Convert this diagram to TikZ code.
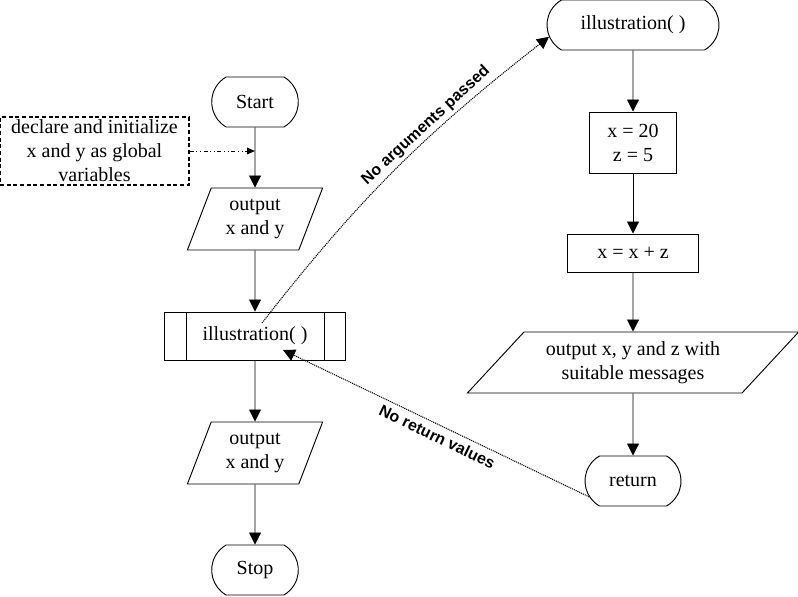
\documentclass[tikz,border=0pt]{standalone}
\usepackage{fontspec}
\setmainfont{Liberation Serif}
\newfontfamily\remarkfont{Liberation Sans}
\usetikzlibrary{shapes.geometric,shapes.misc,arrows.meta}

\tikzset{
	terminal/.style={draw, rounded rectangle, rounded rectangle arc length=120,
		minimum width=#1, minimum height=37.5pt, inner sep=0pt},
	terminal/.default=65pt,
	io/.style={draw, trapezium, trapezium left angle=68, trapezium right angle=112,
		trapezium stretches=true, minimum width=102pt, minimum height=46.5pt,
		align=center, inner sep=0pt},
	process/.style={draw, rectangle, align=center, inner sep=0pt},
	callbox/.style={draw, rectangle, minimum width=135.75pt, minimum height=36pt, inner sep=0pt},
	declbox/.style={draw, line width=1pt, dash pattern=on 3pt off 2pt, align=center,
		minimum width=141.75pt, minimum height=51pt, inner sep=1pt},
	flow/.style={-{Triangle[length=9pt,width=9pt]}},
	dots/.style={line width=0.8pt, dash pattern=on 0.8pt off 0.7pt},
	remark/.style={font=\remarkfont\bfseries\fontsize{12}{14}\selectfont, inner sep=1pt}
}

\begin{document}
\begin{tikzpicture}[x=0.75pt, y=0.75pt, line width=0.7pt, font=\fontsize{15}{18}\selectfont]
	\useasboundingbox (0,0) rectangle (798,596);

	% main program
	\node[terminal] (start) at (255,494) {Start};
	\node[declbox] (decl) at (94.5,445) {declare and initialize\\x and y as global\\variables};
	\node[io] (out1) at (255,377) {output\\x and y};
	\node[callbox] (call) at (255,260) {illustration( )};
	\node[io] (out2) at (255,143) {output\\x and y};
	\node[terminal] (stop) at (255,26) {Stop};

	\draw ([xshift=16.5pt]call.north west) -- ([xshift=16.5pt]call.south west);
	\draw ([xshift=-16.5pt]call.north east) -- ([xshift=-16.5pt]call.south east);

	% function
	\node[terminal=129pt] (fun) at (633,571) {illustration( )};
	\node[process, minimum width=65pt, minimum height=45.75pt] (assign) at (633,453.5) {x = 20\\z = 5};
	\node[process, minimum width=98pt, minimum height=28.5pt] (update) at (633,343) {x = x + z};
	\node[io, trapezium left angle=43, trapezium right angle=137, minimum width=249pt, minimum height=45.75pt]
		(out3) at (633,233.5) {output x, y and z with\\suitable messages};
	\node[terminal=72pt] (ret) at (633,115) {return};

	\draw[flow] (start) -- (out1);
	\draw[flow] (out1) -- (call);
	\draw[flow] (call) -- (out2);
	\draw[flow] (out2) -- (stop);

	\draw[flow] (fun) -- (assign);
	\draw[flow] (assign) -- (update);
	\draw[flow] (update) -- (out3);
	\draw[flow] (out3) -- (ret);

	\draw[-{Triangle[length=6pt,width=5pt]}, dash dot dot] (decl) -- (decl -| start);

	\coordinate (argsrc) at ([shift={(7,13)}]call.center);
	\coordinate (retdst) at ([shift={(28,-14)}]call.center);

	\draw[flow, dots] (argsrc) to[out=52, in=218]
		node[remark, sloped, above=1pt, pos=0.64] {No arguments passed} (fun.188);
	\draw[flow, dots] (ret.200) --
		node[remark, sloped, below=3pt, pos=0.48] {No return values} (retdst);
\end{tikzpicture}
\end{document}
